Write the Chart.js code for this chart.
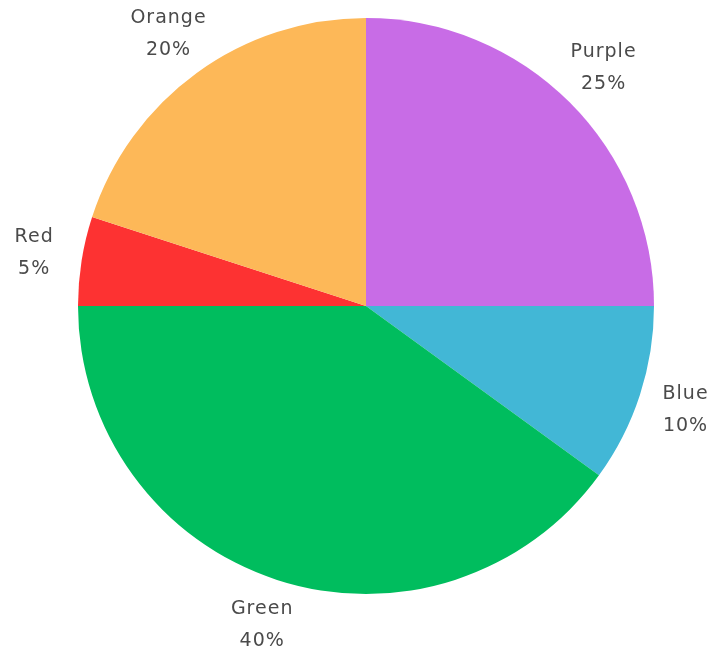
<!DOCTYPE html>
<html lang="en">
<head>
    <meta charset="UTF-8">
    <title>Pie chart</title>
    <script src="https://cdn.jsdelivr.net/npm/chart.js"></script>
    <style>
        html, body { margin: 0; padding: 0; background: #fff; }
        .wrap { position: relative; width: 727px; height: 654px; }
    </style>
</head>
<body>
    <div class="wrap"><canvas id="pie"></canvas></div>

    <script>
        // data, clockwise from 12 o'clock
        const categories = ['Purple', 'Blue', 'Green', 'Red', 'Orange'];
        const shares = [25, 10, 40, 5, 20];
        const sliceColors = ['#c86ce6', '#42b7d6', '#00bd5e', '#fd3232', '#fdb858'];

        // draws "Name / NN%" outside each slice
        const outerLabels = {
            id: 'outerLabels',
            afterDatasetsDraw(chart) {
                const ctx = chart.ctx;
                const meta = chart.getDatasetMeta(0);
                ctx.save();
                ctx.font = '19px "DejaVu Sans", sans-serif';
                ctx.letterSpacing = '1px';
                ctx.fillStyle = '#4a4a4a';
                ctx.textAlign = 'center';
                ctx.textBaseline = 'middle';
                meta.data.forEach((arc, i) => {
                    const mid = (arc.startAngle + arc.endAngle) / 2;
                    const dist = arc.outerRadius + 48;
                    const x = arc.x + Math.cos(mid) * dist;
                    const y = arc.y + Math.sin(mid) * dist;
                    ctx.fillText(categories[i], x, y - 16);
                    ctx.fillText(shares[i] + '%', x, y + 16);
                });
                ctx.restore();
            }
        };

        new Chart(document.getElementById('pie'), {
            type: 'pie',
            data: {
                labels: categories,
                datasets: [{
                    data: shares,
                    backgroundColor: sliceColors,
                    borderWidth: 0
                }]
            },
            options: {
                responsive: true,
                maintainAspectRatio: false,
                animation: false,
                layout: { padding: { left: 78, right: 73, top: 18, bottom: 60 } },
                plugins: { legend: { display: false }, tooltip: { enabled: false } }
            },
            plugins: [outerLabels]
        });
    </script>
</body>
</html>
